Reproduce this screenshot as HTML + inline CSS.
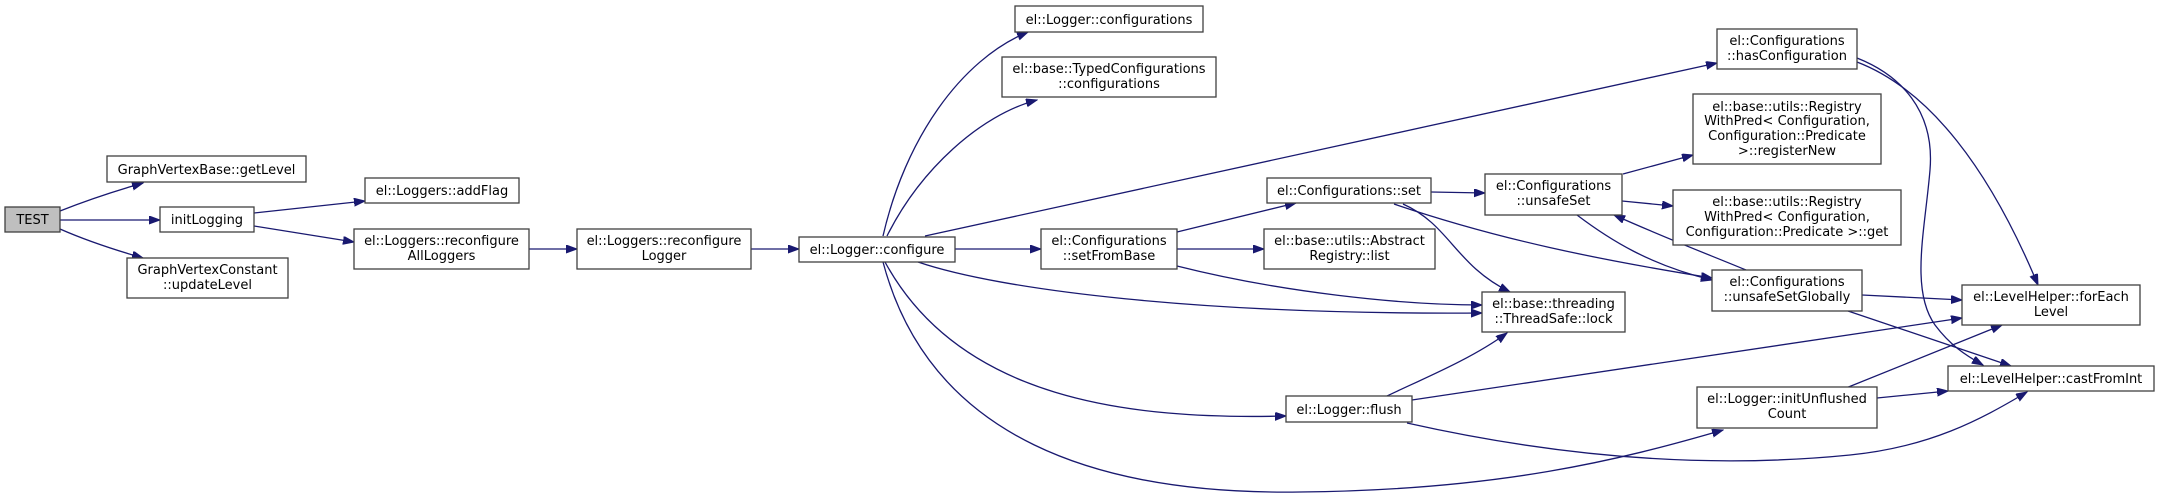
<!DOCTYPE html>
<html><head><meta charset="utf-8"><style>
html,body{margin:0;padding:0;background:#fff;}
svg{display:block;}
text{font-family:"DejaVu Sans","Liberation Sans",sans-serif;font-size:13px;fill:#000;text-anchor:middle;}
rect{fill:#fff;stroke:#404040;stroke-width:1.3;}
path{fill:none;stroke:#191970;stroke-width:1.3;}
</style></head><body>
<svg width="2159" height="499" viewBox="0 0 2159 499" xmlns="http://www.w3.org/2000/svg">
<defs>
<marker id="a" markerUnits="userSpaceOnUse" markerWidth="12" markerHeight="10" refX="11" refY="4" orient="auto">
<polygon points="0,0 11,4 0,8" style="fill:#191970;stroke:#191970;stroke-width:1"/>
</marker>
</defs>
<g marker-end="url(#a)">
<path d="M60,211 C85,201 115,191 143,183"/>
<path d="M60,220 L160,220"/>
<path d="M60,229 C85,240 115,250 143,258"/>
<path d="M254,213 L365,201"/>
<path d="M254,226 L354,242"/>
<path d="M529,249 L577,249"/>
<path d="M751,249 L799,249"/>
<path d="M883,236 C905,140 960,60 1028,32"/>
<path d="M887,236 C920,170 980,115 1037,100"/>
<path d="M925,236 L1717,63"/>
<path d="M955,249 L1041,249"/>
<path d="M918,262 C1000,290 1200,315 1482,313"/>
<path d="M1177,266 C1280,292 1400,305 1482,305"/>
<path d="M885,262 C960,400 1130,420 1286,416"/>
<path d="M883,262 C930,440 1100,495 1300,492 C1500,490 1620,460 1723,430"/>
<path d="M1177,232 L1296,203"/>
<path d="M1177,249 L1264,249"/>
<path d="M1431,192 L1485,193"/>
<path d="M1403,204 C1450,225 1455,265 1510,292"/>
<path d="M1394,204 C1500,240 1600,260 1712,278"/>
<path d="M1623,174 L1693,155"/>
<path d="M1622,201 L1673,206"/>
<path d="M1577,215 C1610,240 1650,265 1712,280"/>
<path d="M1746,270 C1710,255 1670,240 1614,215"/>
<path d="M1862,295 L1962,300"/>
<path d="M1848,311 L2011,366"/>
<path d="M1857,62 C1930,90 1990,170 2038,285"/>
<path d="M1857,58 C1900,75 1935,110 1930,170 C1925,230 1910,290 1935,325 C1950,345 1965,355 1983,365"/>
<path d="M1387,396 C1420,380 1470,360 1507,333"/>
<path d="M1412,400 L1962,318"/>
<path d="M1407,423 C1550,455 1700,470 1850,455 C1930,447 1980,420 2027,392"/>
<path d="M1846,388 L2002,325"/>
<path d="M1877,398 L1948,391"/>
</g>

<rect x="5" y="207" width="55" height="25" style="fill:#bfbfbf"/>
<text x="32.5" y="224">TEST</text>

<rect x="107" y="156" width="199" height="26"/>
<text x="206.5" y="174">GraphVertexBase::getLevel</text>

<rect x="160" y="207" width="94" height="25"/>
<text x="207" y="224">initLogging</text>

<rect x="127" y="258" width="161" height="40"/>
<text x="207.5" y="274">GraphVertexConstant</text>
<text x="207.5" y="289">::updateLevel</text>

<rect x="365" y="178" width="154" height="25"/>
<text x="442" y="195">el::Loggers::addFlag</text>

<rect x="354" y="229" width="175" height="40"/>
<text x="441.5" y="245">el::Loggers::reconfigure</text>
<text x="441.5" y="260">AllLoggers</text>

<rect x="577" y="229" width="174" height="40"/>
<text x="664" y="245">el::Loggers::reconfigure</text>
<text x="664" y="260">Logger</text>

<rect x="799" y="237" width="156" height="25"/>
<text x="877" y="254">el::Logger::configure</text>

<rect x="1015" y="6" width="188" height="26"/>
<text x="1109" y="24">el::Logger::configurations</text>

<rect x="1002" y="57" width="214" height="40"/>
<text x="1109" y="73">el::base::TypedConfigurations</text>
<text x="1109" y="88">::configurations</text>

<rect x="1041" y="229" width="136" height="40"/>
<text x="1109" y="245">el::Configurations</text>
<text x="1109" y="260">::setFromBase</text>

<rect x="1267" y="178" width="164" height="25"/>
<text x="1349" y="195">el::Configurations::set</text>

<rect x="1264" y="229" width="171" height="40"/>
<text x="1349.5" y="245">el::base::utils::Abstract</text>
<text x="1349.5" y="260">Registry::list</text>

<rect x="1286" y="396" width="126" height="26"/>
<text x="1349" y="414">el::Logger::flush</text>

<rect x="1717" y="29" width="140" height="40"/>
<text x="1787" y="45">el::Configurations</text>
<text x="1787" y="60">::hasConfiguration</text>

<rect x="1693" y="94" width="188" height="70"/>
<text x="1787" y="111">el::base::utils::Registry</text>
<text x="1787" y="125">WithPred&lt; Configuration,</text>
<text x="1787" y="140">Configuration::Predicate</text>
<text x="1787" y="155">&gt;::registerNew</text>

<rect x="1485" y="174" width="137" height="41"/>
<text x="1553.5" y="190">el::Configurations</text>
<text x="1553.5" y="205">::unsafeSet</text>

<rect x="1673" y="190" width="228" height="55"/>
<text x="1787" y="206">el::base::utils::Registry</text>
<text x="1787" y="221">WithPred&lt; Configuration,</text>
<text x="1787" y="236">Configuration::Predicate &gt;::get</text>

<rect x="1712" y="270" width="150" height="41"/>
<text x="1787" y="286">el::Configurations</text>
<text x="1787" y="301">::unsafeSetGlobally</text>

<rect x="1482" y="292" width="143" height="40"/>
<text x="1553.5" y="308">el::base::threading</text>
<text x="1553.5" y="323">::ThreadSafe::lock</text>

<rect x="1962" y="285" width="178" height="40"/>
<text x="2051" y="301">el::LevelHelper::forEach</text>
<text x="2051" y="316">Level</text>

<rect x="1948" y="366" width="206" height="25"/>
<text x="2051" y="383">el::LevelHelper::castFromInt</text>

<rect x="1697" y="387" width="180" height="41"/>
<text x="1787" y="403">el::Logger::initUnflushed</text>
<text x="1787" y="418">Count</text>
</svg>
</body></html>
